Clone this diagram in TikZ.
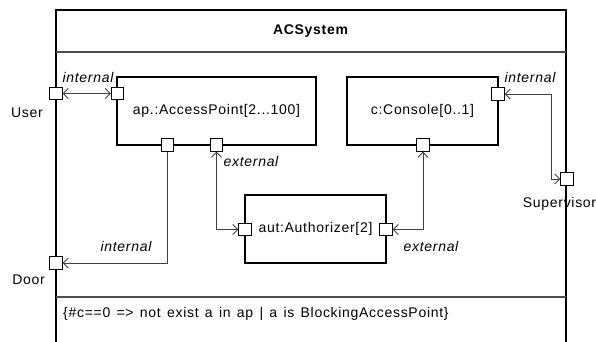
\documentclass[tikz,border=0pt]{standalone}
\usepackage{fontspec}
\setmainfont{Liberation Sans}[LetterSpace=5]
\usetikzlibrary{arrows.meta}
\begin{document}
\begin{tikzpicture}[x=1pt,y=-1pt,
  every node/.style={font=\fontsize{14}{16}\selectfont, inner sep=0pt},
  port/.style={draw=black, fill=white, line width=0.8pt, minimum size=12.5pt, inner sep=0pt},
  part/.style={draw=black, line width=1.4pt, minimum height=68pt},
  conn/.style={draw=black!75, line width=0.9pt, >={Straight Barb[length=5pt,width=10pt]}},
  lbl/.style={font=\fontsize{14}{16}\selectfont\itshape},
]
\useasboundingbox (0,0) rectangle (596,342);
% frame
\draw[line width=2pt] (56,342) -- (56,10) -- (566,10) -- (566,342);
\draw[line width=1.3pt, black!70] (56,52) -- (566,52);
\draw[line width=1.3pt, black!70] (56,297) -- (566,297);
\node[font=\fontsize{14}{16}\selectfont\bfseries] (title) at (310.5,31) {ACSystem};
% parts
\node[part, minimum width=199pt] (ap) at (216.5,111) {ap.:AccessPoint[2...100]};
\node[part, minimum width=151pt] (con) at (422.5,111) {c:Console[0..1]};
\node[part, minimum width=141pt] (aut) at (315.5,229) {aut:Authorizer[2]};
% ports
\node[port] (pUser) at (56,93.5) {};
\node[port] (pApL) at (117.5,93.5) {};
\node[port] (pApB1) at (167.5,145) {};
\node[port] (pApB2) at (216.5,145) {};
\node[port] (pConB) at (423,145) {};
\node[port] (pConR) at (498,94) {};
\node[port] (pSup) at (567,179) {};
\node[port] (pAutL) at (245,229.5) {};
\node[port] (pAutR) at (386,229.5) {};
\node[port] (pDoor) at (56,263) {};
\coordinate (bend) at (551,94);
% connectors
\draw[conn, <->] (pUser.east) -- (pApL.west);
\draw[conn, ->] (pApB1.south) |- (pDoor.east);
\draw[conn, <->] (pApB2.south) |- (pAutL.west);
\draw[conn, <->] (pConB.south) |- (pAutR.east);
\draw[conn, <->] (pConR.east) -- (bend) |- (pSup.west);
% labels
\node[lbl] (l1) at (88,77) {internal};
\node[lbl] (l2) at (251,161) {external};
\node[lbl] (l3) at (126,246) {internal};
\node[lbl] (l4) at (431,246) {external};
\node[lbl] (l5) at (530,77) {internal};
\node (tUser) at (27,112.5) {User};
\node (tDoor) at (28.5,280) {Door};
\node[anchor=west] (tSup) at (522.7,204) {Supervisor};
\node[anchor=west] (cons) at (63,313.5) {\spaceskip=6.3pt\relax\{\#c==0 => not exist a in ap | a is BlockingAccessPoint\}};
\end{tikzpicture}
\end{document}
